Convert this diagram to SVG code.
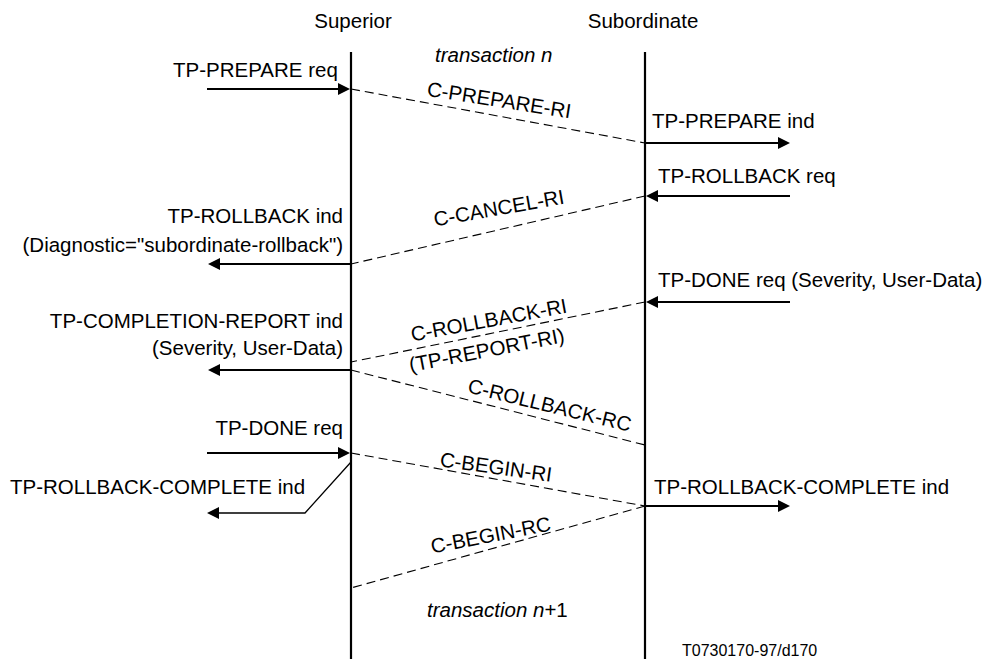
<svg xmlns="http://www.w3.org/2000/svg" width="997" height="659" viewBox="0 0 997 659">
<style>
text{font-family:"Liberation Sans",Arial,sans-serif;font-size:20.5px;fill:#000}
.it{font-style:italic}
.e{text-anchor:end}
.m{text-anchor:middle}
.life{stroke:#000;stroke-width:2.2;fill:none}
.arr{stroke:#000;stroke-width:2.2;fill:none;marker-end:url(#ah)}
.thin{stroke:#000;stroke-width:1.3;fill:none;marker-end:url(#ah2)}
.dash{stroke:#000;stroke-width:1.1;fill:none;stroke-dasharray:9 5}
.small{font-size:16px}
</style>
<defs>
<marker id="ah" viewBox="0 0 12 12" refX="6" refY="6" markerWidth="12" markerHeight="12" markerUnits="userSpaceOnUse" orient="auto"><path d="M0,0 L12,6 L0,12 z" fill="#000"/></marker>
<marker id="ah2" viewBox="0 0 12 12" refX="6" refY="6" markerWidth="12" markerHeight="12" markerUnits="userSpaceOnUse" orient="auto"><path d="M0,0 L12,6 L0,12 z" fill="#000"/></marker>
</defs>
<g id="superior"><text x="353" y="28" class="m">Superior</text><line class="life" x1="351" y1="52" x2="351" y2="659"/></g>
<g id="subordinate"><text x="643" y="28" class="m">Subordinate</text><line class="life" x1="645" y1="52" x2="645" y2="659"/></g>
<g id="labels">
<text x="435" y="62" class="it">transaction n</text>
<text x="427" y="617"><tspan class="it">transaction n</tspan>+1</text>
<text x="682" y="656" class="small">T0730170-97/d170</text>
</g>
<g id="connectors">
<line class="arr" x1="207" y1="89" x2="344" y2="89"/>
<line class="arr" x1="645" y1="143" x2="784" y2="143"/>
<line class="arr" x1="790" y1="196" x2="652" y2="196"/>
<line class="arr" x1="351" y1="264" x2="214" y2="264"/>
<line class="arr" x1="790" y1="302" x2="652" y2="302"/>
<line class="arr" x1="351" y1="370" x2="214" y2="370"/>
<line class="arr" x1="207" y1="453" x2="344" y2="453"/>
<polyline class="thin" points="351,462 305,513 213,513"/>
<line class="arr" x1="645" y1="506" x2="784" y2="506"/>
<line class="dash" x1="351" y1="89" x2="645" y2="143"/>
<line class="dash" x1="645" y1="196" x2="351" y2="264"/>
<line class="dash" x1="645" y1="302" x2="351" y2="362"/>
<line class="dash" x1="351" y1="370" x2="645" y2="445"/>
<line class="dash" x1="351" y1="453" x2="645" y2="506"/>
<line class="dash" x1="645" y1="506" x2="351" y2="588"/>
</g>
<g id="messages">
<text x="173" y="77">TP-PREPARE req</text>
<text x="652" y="128">TP-PREPARE ind</text>
<text x="658" y="183">TP-ROLLBACK req</text>
<text x="343" y="223" class="e">TP-ROLLBACK ind</text>
<text x="343" y="252" class="e">(Diagnostic="subordinate-rollback")</text>
<text x="658" y="287">TP-DONE req (Severity, User-Data)</text>
<text x="343" y="328" class="e">TP-COMPLETION-REPORT ind</text>
<text x="343" y="355" class="e">(Severity, User-Data)</text>
<text x="343" y="435" class="e">TP-DONE req</text>
<text x="10" y="494">TP-ROLLBACK-COMPLETE ind</text>
<text x="654" y="494">TP-ROLLBACK-COMPLETE ind</text>
<text class="m" transform="translate(498,107) rotate(9)">C-PREPARE-RI</text>
<text class="m" transform="translate(500,215) rotate(-10)">C-CANCEL-RI</text>
<text class="m" transform="translate(490,327) rotate(-10.5)">C-ROLLBACK-RI</text>
<text class="m" transform="translate(488,357) rotate(-11)">(TP-REPORT-RI)</text>
<text class="m" transform="translate(548,412) rotate(13.6)">C-ROLLBACK-RC</text>
<text class="m" transform="translate(495,474) rotate(8)">C-BEGIN-RI</text>
<text class="m" transform="translate(492,542) rotate(-11)">C-BEGIN-RC</text>
</g>
</svg>
